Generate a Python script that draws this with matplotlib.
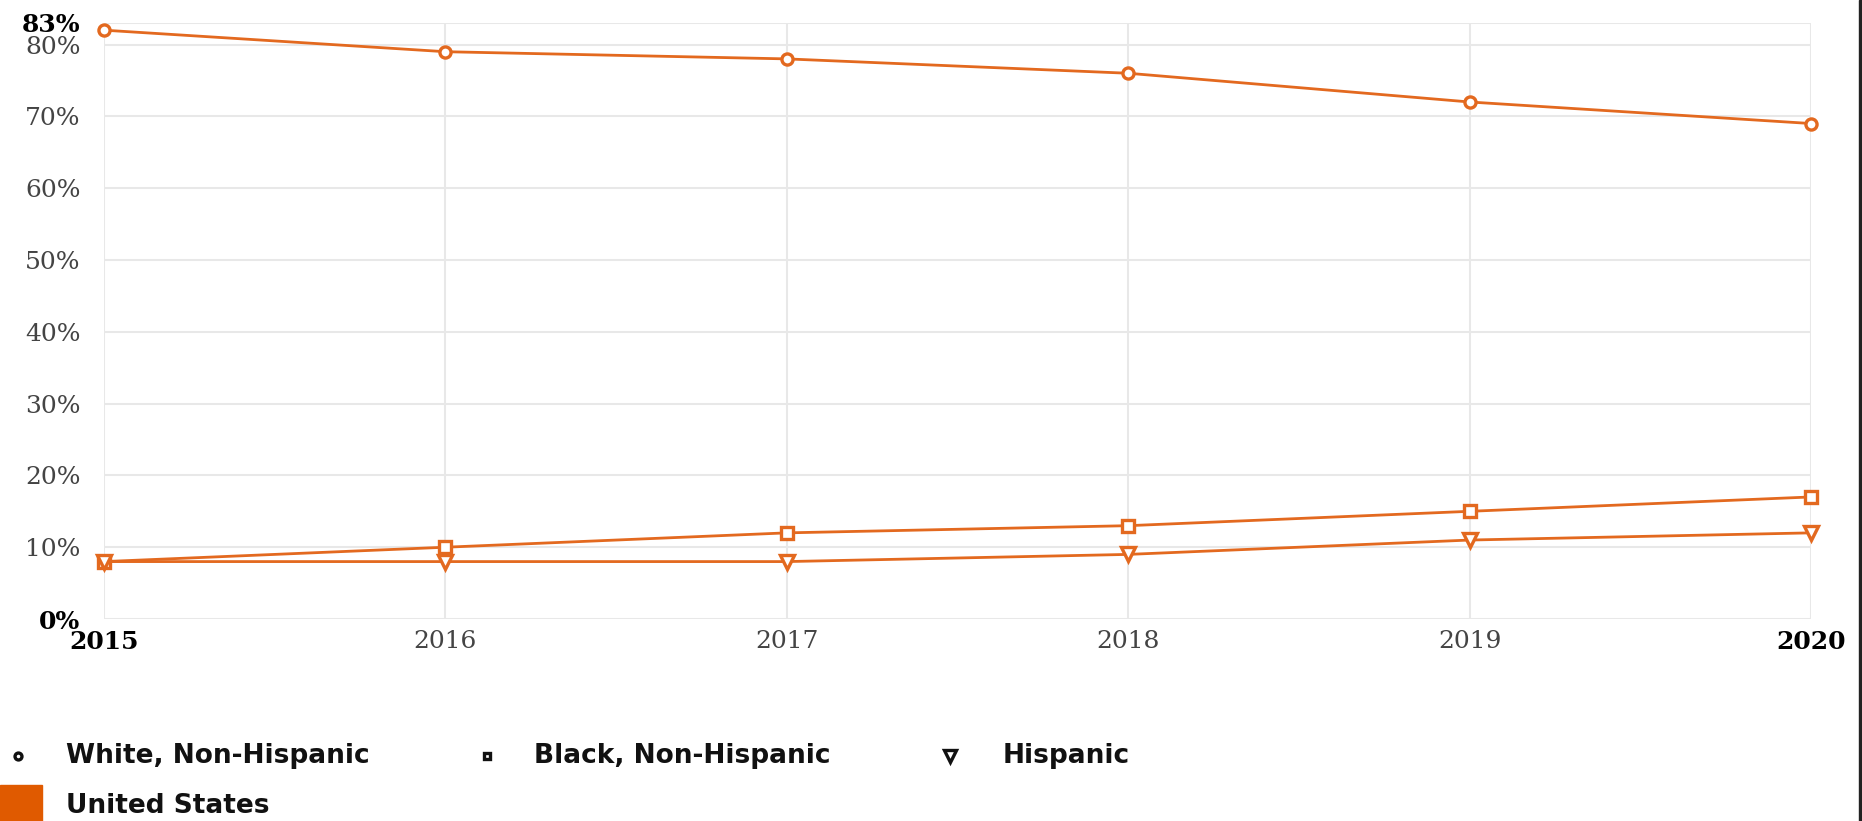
import matplotlib.pyplot as plt
from matplotlib.lines import Line2D
from matplotlib.patches import Rectangle

years = [2015, 2016, 2017, 2018, 2019, 2020]
white = [82, 79, 78, 76, 72, 69]
black = [8, 10, 12, 13, 15, 17]
hispanic = [8, 8, 8, 9, 11, 12]
y_ticks = [0, 10, 20, 30, 40, 50, 60, 70, 80, 83]
series_names = ["White, Non-Hispanic", "Black, Non-Hispanic", "Hispanic"]
region = "United States"

ORANGE = '#e3691f'
GRID = '#e8e8e8'


def draw_series(ax, ys, marker, size):
    ax.plot(years, ys, color=ORANGE, lw=2, marker=marker, ms=size,
            mfc='white', mec=ORANGE, mew=2.4, clip_on=False, zorder=3)


fig = plt.figure(figsize=(18.62, 8.21), dpi=100)
ax = fig.add_axes([0.0559, 0.246, 0.9167, 0.726])

draw_series(ax, white, 'o', 8)
draw_series(ax, black, 's', 8)
draw_series(ax, hispanic, 'v', 10)

ax.set_xlim(2015, 2020)
ax.set_ylim(0, 83)
ax.set_xticks(years)
ax.set_yticks(y_ticks)
ax.set_yticklabels([f'{v}%' for v in y_ticks])
ax.grid(True, color=GRID, lw=1.5, zorder=0)
for s in ax.spines.values():
    s.set_visible(False)
ax.tick_params(length=0, labelsize=18, labelcolor='#444444')
ax.tick_params(axis='y', pad=17)
ax.tick_params(axis='x', pad=8)
for lbl in ax.get_xticklabels() + ax.get_yticklabels():
    lbl.set_family('DejaVu Serif')
for i in (0, -1):
    for lbl in (ax.get_xticklabels()[i], ax.get_yticklabels()[i]):
        lbl.set_fontweight('bold')
        lbl.set_color('black')

# legend row: marker + name
legend_x = [(0.0097, 0.0355), (0.2615, 0.2868), (0.5102, 0.5387)]
markers = ['o', 's', 'v']
for (mx, tx), m, name in zip(legend_x, markers, series_names):
    fig.add_artist(Line2D([mx], [0.079], marker=m, ms=5 if m != 'v' else 8,
                          mfc='white', mec='#111111', mew=2.4, ls='none',
                          transform=fig.transFigure))
    fig.text(tx, 0.079, name, fontsize=19, fontweight='bold', va='center',
             color='#111111')

fig.add_artist(Rectangle((0, 0), 0.0226, 0.044, color='#e05a00',
                         transform=fig.transFigure))
fig.text(0.0355, 0.018, region, fontsize=19, fontweight='bold', va='center',
         color='#111111')

# dark frame edge on the right
fig.add_artist(Rectangle((0.9985, 0), 0.0015, 1, color='#222222',
                         transform=fig.transFigure))

fig.savefig('out.png', dpi=100)
